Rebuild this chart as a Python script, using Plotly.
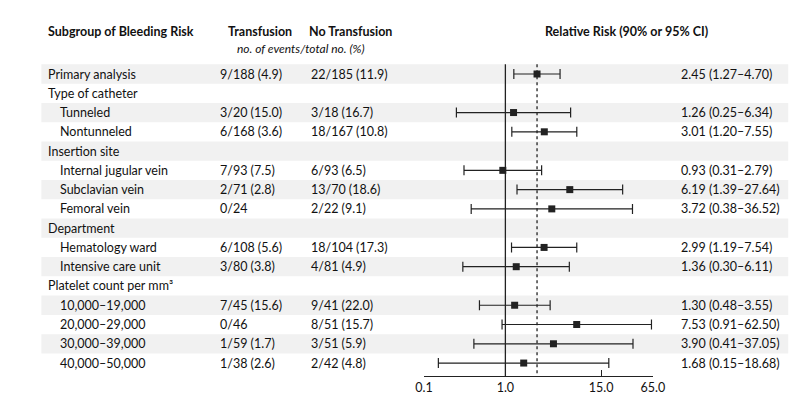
import plotly.graph_objects as go

labels = ["Primary analysis", "Type of catheter", "Tunneled", "Nontunneled", "Insertion site",
          "Internal jugular vein", "Subclavian vein", "Femoral vein", "Department",
          "Hematology ward", "Intensive care unit", "Platelet count per mm³",
          "10,000–19,000", "20,000–29,000", "30,000–39,000", "40,000–50,000"]
indent = [0, 0, 1, 1, 0, 1, 1, 1, 0, 1, 1, 0, 1, 1, 1, 1]
transfusion = ["9/188 (4.9)", "", "3/20 (15.0)", "6/168 (3.6)", "", "7/93 (7.5)", "2/71 (2.8)", "0/24",
               "", "6/108 (5.6)", "3/80 (3.8)", "", "7/45 (15.6)", "0/46", "1/59 (1.7)", "1/38 (2.6)"]
no_transfusion = ["22/185 (11.9)", "", "3/18 (16.7)", "18/167 (10.8)", "", "6/93 (6.5)", "13/70 (18.6)",
                  "2/22 (9.1)", "", "18/104 (17.3)", "4/81 (4.9)", "", "9/41 (22.0)", "8/51 (15.7)",
                  "3/51 (5.9)", "2/42 (4.8)"]
rr = [2.45, None, 1.26, 3.01, None, 0.93, 6.19, 3.72, None, 2.99, 1.36, None, 1.30, 7.53, 3.90, 1.68]
lo = [1.27, None, 0.25, 1.20, None, 0.31, 1.39, 0.38, None, 1.19, 0.30, None, 0.48, 0.91, 0.41, 0.15]
hi = [4.70, None, 6.34, 7.55, None, 2.79, 27.64, 36.52, None, 7.54, 6.11, None, 3.55, 62.50, 37.05, 18.68]
tick_vals = [0.1, 1.0, 15.0, 65.0]
tick_text = ["0.1", "1.0", "15.0", "65.0"]

FONT = "Lato"
C = "#222222"
W, H = 800, 419
axis_y_px = 368
row0_px, step_px = 66, 19.27
top = -row0_px / step_px
bot = (axis_y_px - row0_px) / step_px

idx = [i for i in range(len(labels)) if rr[i] is not None]
fig = go.Figure()
fig.add_trace(go.Scatter(
    x=[rr[i] for i in idx], y=idx, mode="markers",
    marker=dict(symbol="square", size=7, color=C),
    error_x=dict(type="data", symmetric=False,
                 array=[hi[i] - rr[i] for i in idx],
                 arrayminus=[rr[i] - lo[i] for i in idx],
                 color=C, thickness=1.2, width=5),
    hoverinfo="skip", cliponaxis=False))

shapes = []
for i in range(0, len(labels), 2):
    shapes.append(dict(type="rect", xref="paper", yref="y", x0=25 / W, x1=792 / W,
                       y0=i - 0.5, y1=i + 0.5, fillcolor="#f1f1f1", line_width=0, layer="below"))
shapes.append(dict(type="line", xref="x", yref="y", x0=1, x1=1, y0=-0.5, y1=bot,
                   line=dict(color=C, width=1.3)))
shapes.append(dict(type="line", xref="x", yref="y", x0=rr[0], x1=rr[0], y0=-0.5, y1=bot,
                   line=dict(color=C, width=1.3, dash="dot")))

ann = []
def t(x, y, s, anchor="left", bold=False, italic=False, size=12.5):
    txt = f"<b>{s}</b>" if bold else s
    if italic:
        txt = f"<i>{s}</i>"
    ann.append(dict(x=x / W, xref="paper", y=y, yref="y", text=txt, showarrow=False,
                    xanchor=anchor, yanchor="middle", font=dict(family=FONT, size=size, color="#111")))

hy = -2.2
t(30, hy, "Subgroup of Bleeding Risk", bold=True)
t(250, hy, "Transfusion", anchor="center", bold=True)
t(343, hy, "No Transfusion", anchor="center", bold=True)
t(626, hy, "Relative Risk (90% or 95% CI)", anchor="center", bold=True)
t(292, -1.3, "no. of events/total no. (%)", anchor="center", italic=True, size=12)
for i, lab in enumerate(labels):
    t(30 + 12 * indent[i], i, lab)
    if transfusion[i]:
        t(206, i, transfusion[i])
    if no_transfusion[i]:
        t(300, i, no_transfusion[i])
    if rr[i] is not None:
        t(680, i, f"{rr[i]:.2f} ({lo[i]:.2f}–{hi[i]:.2f})")

fig.update_layout(
    width=W, height=H, margin=dict(l=0, r=0, t=0, b=0),
    paper_bgcolor="white", plot_bgcolor="rgba(0,0,0,0)", showlegend=False,
    shapes=shapes, annotations=ann,
    xaxis=dict(type="log", domain=[418 / W, 653 / W], range=[-1, 1.8129],
               tickvals=tick_vals, ticktext=tick_text, ticks="inside", ticklen=6,
               tickcolor=C, showline=True, linecolor=C, linewidth=1.3,
               showgrid=False, zeroline=False, tickfont=dict(family=FONT, size=12.5, color="#111")),
    yaxis=dict(domain=[(H - axis_y_px) / H, 1], range=[bot, top], visible=False,
               showgrid=False, zeroline=False),
)
fig.write_html("out.html")
